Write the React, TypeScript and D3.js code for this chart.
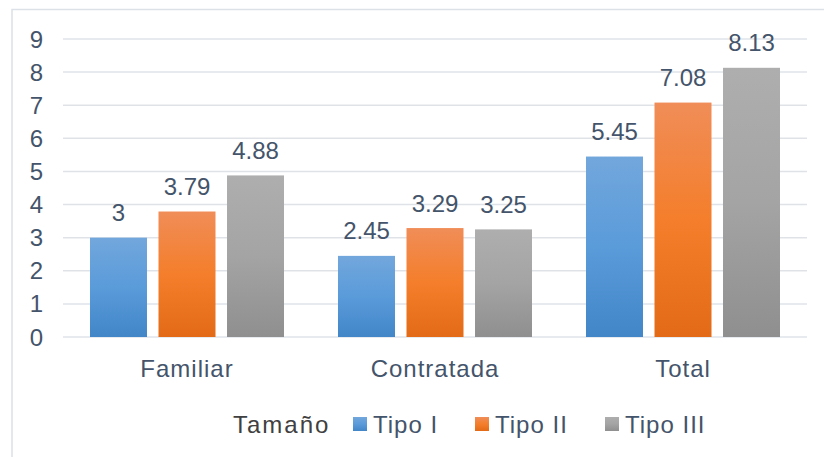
import { useEffect, useRef } from 'react';
import * as d3 from 'd3';

const categories = ['Familiar', 'Contratada', 'Total'];
const series = ['Tipo I', 'Tipo II', 'Tipo III'];
const tipoI = [3, 2.45, 5.45];
const tipoII = [3.79, 3.29, 7.08];
const tipoIII = [4.88, 3.25, 8.13];
const yTicks = [0, 1, 2, 3, 4, 5, 6, 7, 8, 9];
const legendTitle = 'Tamaño';

const W = 824;
const H = 457;
const TEXT = '#44546A';
const FONT = '"Liberation Sans", Arial, sans-serif';

// gradient stops: top, middle, bottom
const GRADS = [
  ['#72A7DC', '#5A9BDA', '#4286C8'],
  ['#F08D58', '#F47E2B', '#E36B17'],
  ['#AEAEAE', '#A4A4A4', '#8F8F8F'],
];

export default function App() {
  const svgRef = useRef<SVGSVGElement>(null);

  useEffect(() => {
    document.body.style.margin = '0';
    const svg = d3.select(svgRef.current);
    svg.selectAll('*').remove();

    const values = [tipoI, tipoII, tipoIII];
    const left = 63, right = 807, top = 39, bottom = 337;

    const y = d3.scaleLinear().domain([0, 9]).range([bottom, top]);
    const x0 = d3.scaleBand<string>().domain(categories).range([left, right])
      .paddingInner(0.2177).paddingOuter(0.2177 / 2);
    const x1 = d3.scaleBand<string>().domain(series).range([0, x0.bandwidth()])
      .paddingInner(0.168).paddingOuter(0);

    // gradients
    const defs = svg.append('defs');
    GRADS.forEach((g, i) => {
      const lg = defs.append('linearGradient').attr('id', 'g' + i)
        .attr('x1', 0).attr('y1', 0).attr('x2', 0).attr('y2', 1);
      lg.append('stop').attr('offset', '0%').attr('stop-color', g[0]);
      lg.append('stop').attr('offset', '50%').attr('stop-color', g[1]);
      lg.append('stop').attr('offset', '100%').attr('stop-color', g[2]);
    });

    svg.append('rect').attr('x', 0).attr('y', 0).attr('width', W).attr('height', H).attr('fill', '#fff');
    // frame
    svg.append('rect')
      .attr('x', 12).attr('y', 9.5).attr('width', 840).attr('height', 470)
      .attr('fill', 'none').attr('stroke', '#DCE1E7').attr('stroke-width', 1.5);

    // gridlines
    svg.append('g').selectAll('line').data(yTicks).join('line')
      .attr('x1', left).attr('x2', right)
      .attr('y1', d => y(d)).attr('y2', d => y(d))
      .attr('stroke', '#DFE3E8').attr('stroke-width', 1.5);

    // y tick labels
    svg.append('g').selectAll('text').data(yTicks).join('text')
      .attr('x', 43).attr('y', d => y(d) + 8.5)
      .attr('text-anchor', 'end')
      .attr('font-family', FONT).attr('font-size', 24).attr('fill', TEXT)
      .text(d => d);

    // bars
    series.forEach((s, si) => {
      const g = svg.append('g');
      g.selectAll('rect').data(values[si]).join('rect')
        .attr('x', (_, ci) => x0(categories[ci])! + x1(s)!)
        .attr('y', d => y(d))
        .attr('width', x1.bandwidth())
        .attr('height', d => bottom - y(d))
        .attr('fill', `url(#g${si})`);
      g.selectAll('text').data(values[si]).join('text')
        .attr('x', (_, ci) => x0(categories[ci])! + x1(s)! + x1.bandwidth() / 2)
        .attr('y', d => y(d) - 16.5)
        .attr('text-anchor', 'middle')
        .attr('font-family', FONT).attr('font-size', 24).attr('fill', TEXT)
        .text(d => d3.format('.3~f')(d));
    });

    // category labels
    svg.append('g').selectAll('text').data(categories).join('text')
      .attr('x', d => x0(d)! + x0.bandwidth() / 2)
      .attr('y', 377)
      .attr('text-anchor', 'middle')
      .attr('font-family', FONT).attr('font-size', 24).attr('letter-spacing', 1).attr('fill', TEXT)
      .text(d => d);

    // legend
    const leg = svg.append('g');
    leg.append('text').attr('x', 233).attr('y', 433)
      .attr('font-family', FONT).attr('font-size', 24).attr('letter-spacing', 2).attr('fill', '#404040')
      .text(legendTitle);
    const legX = [353, 475, 605];
    series.forEach((s, i) => {
      leg.append('rect').attr('x', legX[i]).attr('y', 417).attr('width', 14).attr('height', 14)
        .attr('fill', `url(#g${i})`);
      leg.append('text').attr('x', legX[i] + 20).attr('y', 433)
        .attr('font-family', FONT).attr('font-size', 24).attr('letter-spacing', 1).attr('fill', TEXT)
        .text(s);
    });
  }, []);

  return <svg ref={svgRef} width={W} height={H} style={{ display: 'block' }} />;
}
